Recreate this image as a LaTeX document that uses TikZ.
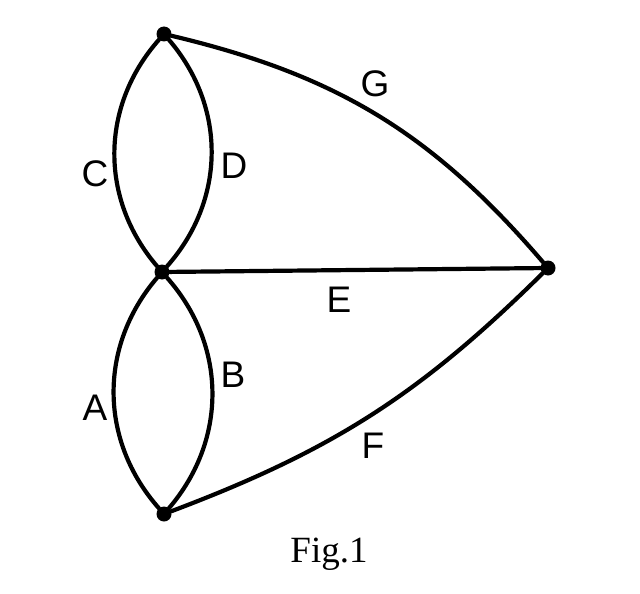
\documentclass[tikz,border=0pt]{standalone}
\usepackage{fontspec}
\setmainfont{Liberation Serif}
\newfontfamily\labfont{Liberation Sans}
\begin{document}
\begin{tikzpicture}[x=1pt,y=-1pt,
  vertex/.style={circle,fill=black,inner sep=0pt,minimum size=15pt},
  edge/.style={line width=4.2pt,line cap=round},
  elabel/.style={font=\labfont\fontsize{37}{40}\selectfont,inner sep=0pt}]
\useasboundingbox (0,0) rectangle (640,594);
\node[vertex] (t) at (164,34) {};
\node[vertex] (m) at (162,272) {};
\node[vertex] (b) at (164,514) {};
\node[vertex] (r) at (548,268) {};
\draw[edge] (t) to[bend right=41] (m);
\draw[edge] (t) to[bend left=41] (m);
\draw[edge] (m) to[bend right=41] (b);
\draw[edge] (m) to[bend left=41] (b);
\draw[edge] (m) -- (r);
\draw[edge] (t) to[bend left=18] (r);
\draw[edge] (b) to[bend right=12] (r);
\node[elabel] (lC) at (95,174) {C};
\node[elabel] (lD) at (234,166) {D};
\node[elabel] (lA) at (95,408) {A};
\node[elabel] (lB) at (233,375) {B};
\node[elabel] (lE) at (339,300) {E};
\node[elabel] (lG) at (375,84) {G};
\node[elabel] (lF) at (373,446) {F};
\node[font=\fontsize{37}{40}\selectfont,inner sep=0pt] (cap) at (329,554) {Fig.1};
\end{tikzpicture}
\end{document}
